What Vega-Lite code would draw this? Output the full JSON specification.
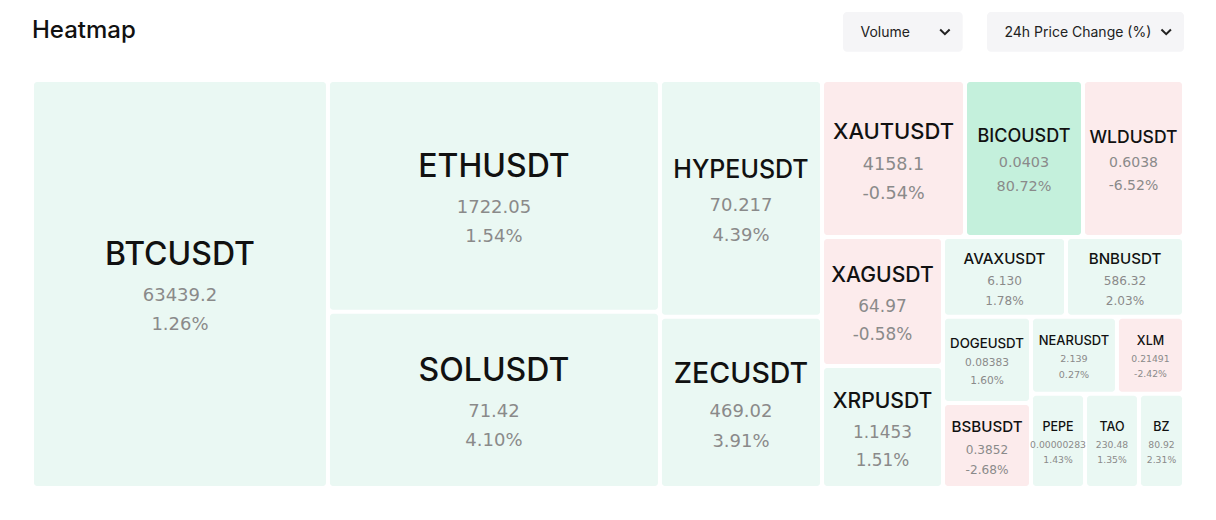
{
  "$schema": "https://vega.github.io/schema/vega-lite/v6.json",
  "width": 1152,
  "height": 408,
  "autosize": "none",
  "padding": {"left": 32, "top": 80, "right": 32, "bottom": 32},
  "background": "white",
  "title": {"text": "Heatmap", "anchor": "start", "frame": "group", "font": "Inter", "fontSize": 24, "fontWeight": 500, "color": "#111111", "baseline": "alphabetic", "offset": -50},
  "config": {"view": {"stroke": null}},
  "datasets": {
    "cells": [
      {"sym": "BTCUSDT", "price": "63439.2", "change": 1.26, "x0": 0, "x1": 25.69, "y0": 0, "y1": 100},
      {"sym": "ETHUSDT", "price": "1722.05", "change": 1.54, "x0": 25.69, "x1": 54.51, "y0": 0, "y1": 56.81},
      {"sym": "SOLUSDT", "price": "71.42", "change": 4.10, "x0": 25.69, "x1": 54.51, "y0": 56.81, "y1": 100},
      {"sym": "HYPEUSDT", "price": "70.217", "change": 4.39, "x0": 54.51, "x1": 68.58, "y0": 0, "y1": 58.01},
      {"sym": "ZECUSDT", "price": "469.02", "change": 3.91, "x0": 54.51, "x1": 68.58, "y0": 58.01, "y1": 100},
      {"sym": "XAUTUSDT", "price": "4158.1", "change": -0.54, "x0": 68.58, "x1": 80.99, "y0": 0, "y1": 38.48},
      {"sym": "BICOUSDT", "price": "0.0403", "change": 80.72, "x0": 80.99, "x1": 91.23, "y0": 0, "y1": 38.48},
      {"sym": "WLDUSDT", "price": "0.6038", "change": -6.52, "x0": 91.23, "x1": 100, "y0": 0, "y1": 38.48},
      {"sym": "XAGUSDT", "price": "64.97", "change": -0.58, "x0": 68.58, "x1": 79.08, "y0": 38.48, "y1": 70.10},
      {"sym": "XRPUSDT", "price": "1.1453", "change": 1.51, "x0": 68.58, "x1": 79.08, "y0": 70.10, "y1": 100},
      {"sym": "AVAXUSDT", "price": "6.130", "change": 1.78, "x0": 79.08, "x1": 89.76, "y0": 38.48, "y1": 58.01},
      {"sym": "BNBUSDT", "price": "586.32", "change": 2.03, "x0": 89.76, "x1": 100, "y0": 38.48, "y1": 58.01},
      {"sym": "DOGEUSDT", "price": "0.08383", "change": 1.60, "x0": 79.08, "x1": 86.72, "y0": 58.01, "y1": 79.17},
      {"sym": "BSBUSDT", "price": "0.3852", "change": -2.68, "x0": 79.08, "x1": 86.72, "y0": 79.17, "y1": 100},
      {"sym": "NEARUSDT", "price": "2.139", "change": 0.27, "x0": 86.72, "x1": 94.18, "y0": 58.01, "y1": 76.91},
      {"sym": "XLM", "price": "0.21491", "change": -2.42, "x0": 94.18, "x1": 100, "y0": 58.01, "y1": 76.91},
      {"sym": "PEPE", "price": "0.000002835", "change": 1.43, "x0": 86.72, "x1": 91.41, "y0": 76.91, "y1": 100},
      {"sym": "TAO", "price": "230.48", "change": 1.35, "x0": 91.41, "x1": 96.09, "y0": 76.91, "y1": 100},
      {"sym": "BZ", "price": "80.92", "change": 2.31, "x0": 96.09, "x1": 100, "y0": 76.91, "y1": 100}
    ],
    "controls": [
      {"label": "Volume", "x0": 70.40, "x1": 80.79, "y0": -16.67, "y1": -6.94},
      {"label": "24h Price Change (%)", "x0": 82.90, "x1": 100, "y0": -16.67, "y1": -6.94}
    ]
  },
  "layer": [
    {
      "data": {"name": "cells"},
      "transform": [
        {"calculate": "(datum.x0+datum.x1)/2", "as": "cx"},
        {"calculate": "(datum.y0+datum.y1)/2", "as": "cy"},
        {"calculate": "(datum.x1-datum.x0)*11.52-4", "as": "wpx"},
        {"calculate": "(datum.y1-datum.y0)*4.08-4", "as": "hpx"},
        {"calculate": "datum.wpx*datum.hpx < 5000 ? 12.5 : (datum.wpx*datum.hpx < 12000 ? 0.2*datum.hpx : 32)", "as": "cap"},
        {"calculate": "min(datum.cap, 0.86*datum.wpx/(0.68*length(datum.sym)))", "as": "ns"},
        {"calculate": "min(18, datum.ns < 13 ? 0.74*datum.ns : 0.8*datum.ns)", "as": "vs"},
        {"calculate": "0.75*datum.ns + 0.9*datum.vs", "as": "d1"},
        {"calculate": "1.65*datum.vs", "as": "d2"},
        {"calculate": "0.2*datum.ns - (datum.d1+datum.d2)/2", "as": "noff"},
        {"calculate": "datum.cy + datum.noff/4.08", "as": "ny"},
        {"calculate": "datum.cy + (datum.noff+datum.d1)/4.08", "as": "vy"},
        {"calculate": "datum.cy + (datum.noff+datum.d1+datum.d2)/4.08", "as": "py"},
        {"calculate": "(datum.change < 0 ? '-' : '') + format(abs(datum.change), '.2f') + '%'", "as": "pct"}
      ],
      "layer": [
        {
          "mark": {"type": "rect", "cornerRadius": 3, "xOffset": 2, "x2Offset": -2, "yOffset": 2, "y2Offset": -2},
          "encoding": {
            "x": {"field": "x0", "type": "quantitative", "scale": {"domain": [0, 100], "range": [0, 1152], "zero": false, "nice": false}, "axis": null},
            "x2": {"field": "x1"},
            "y": {"field": "y0", "type": "quantitative", "scale": {"domain": [0, 100], "range": [0, 408], "zero": false, "nice": false}, "axis": null},
            "y2": {"field": "y1"},
            "color": {"field": "change", "type": "quantitative", "scale": {"type": "threshold", "domain": [0, 20], "range": ["#fcebec", "#eaf8f3", "#c4f0dc"]}, "legend": null}
          }
        },
        {
          "mark": {"type": "text", "font": "Inter", "fontWeight": 500, "color": "#111111", "baseline": "middle", "align": "center"},
          "encoding": {
            "x": {"field": "cx", "type": "quantitative", "scale": {"domain": [0, 100], "range": [0, 1152], "zero": false, "nice": false}, "axis": null},
            "y": {"field": "ny", "type": "quantitative", "scale": {"domain": [0, 100], "range": [0, 408], "zero": false, "nice": false}, "axis": null},
            "text": {"field": "sym"},
            "size": {"field": "ns", "type": "quantitative", "scale": null}
          }
        },
        {
          "mark": {"type": "text", "font": "DejaVu Sans", "color": "#8a8a8a", "baseline": "middle", "align": "center", "limit": {"expr": "datum.wpx + 8"}, "ellipsis": "\u200b"},
          "encoding": {
            "x": {"field": "cx", "type": "quantitative", "scale": {"domain": [0, 100], "range": [0, 1152], "zero": false, "nice": false}, "axis": null},
            "y": {"field": "vy", "type": "quantitative", "scale": {"domain": [0, 100], "range": [0, 408], "zero": false, "nice": false}, "axis": null},
            "text": {"field": "price"},
            "size": {"field": "vs", "type": "quantitative", "scale": null}
          }
        },
        {
          "mark": {"type": "text", "font": "DejaVu Sans", "color": "#8a8a8a", "baseline": "middle", "align": "center"},
          "encoding": {
            "x": {"field": "cx", "type": "quantitative", "scale": {"domain": [0, 100], "range": [0, 1152], "zero": false, "nice": false}, "axis": null},
            "y": {"field": "py", "type": "quantitative", "scale": {"domain": [0, 100], "range": [0, 408], "zero": false, "nice": false}, "axis": null},
            "text": {"field": "pct"},
            "size": {"field": "vs", "type": "quantitative", "scale": null}
          }
        }
      ]
    },
    {
      "data": {"name": "controls"},
      "transform": [
        {"calculate": "datum.x0 + 17.5/11.52", "as": "tx"},
        {"calculate": "datum.x1 - 17.8/11.52", "as": "chx"},
        {"calculate": "(datum.y0+datum.y1)/2", "as": "my"}
      ],
      "layer": [
        {
          "mark": {"type": "rect", "cornerRadius": 4, "color": "#f5f5f7"},
          "encoding": {
            "x": {"field": "x0", "type": "quantitative", "scale": {"domain": [0, 100], "range": [0, 1152], "zero": false, "nice": false}, "axis": null},
            "x2": {"field": "x1"},
            "y": {"field": "y0", "type": "quantitative", "scale": {"domain": [0, 100], "range": [0, 408], "zero": false, "nice": false}, "axis": null},
            "y2": {"field": "y1"}
          }
        },
        {
          "mark": {"type": "text", "font": "Inter", "fontSize": 14, "color": "#222222", "baseline": "middle", "align": "left", "dy": 1},
          "encoding": {
            "x": {"field": "tx", "type": "quantitative", "scale": {"domain": [0, 100], "range": [0, 1152], "zero": false, "nice": false}, "axis": null},
            "y": {"field": "my", "type": "quantitative", "scale": {"domain": [0, 100], "range": [0, 408], "zero": false, "nice": false}, "axis": null},
            "text": {"field": "label"}
          }
        },
        {
          "mark": {"type": "point", "shape": "M-1,-0.5L0,0.5L1,-0.5", "size": 90, "filled": false, "stroke": "#222222", "strokeWidth": 2, "opacity": 1},
          "encoding": {
            "x": {"field": "chx", "type": "quantitative", "scale": {"domain": [0, 100], "range": [0, 1152], "zero": false, "nice": false}, "axis": null},
            "y": {"field": "my", "type": "quantitative", "scale": {"domain": [0, 100], "range": [0, 408], "zero": false, "nice": false}, "axis": null}
          }
        }
      ]
    }
  ]
}
